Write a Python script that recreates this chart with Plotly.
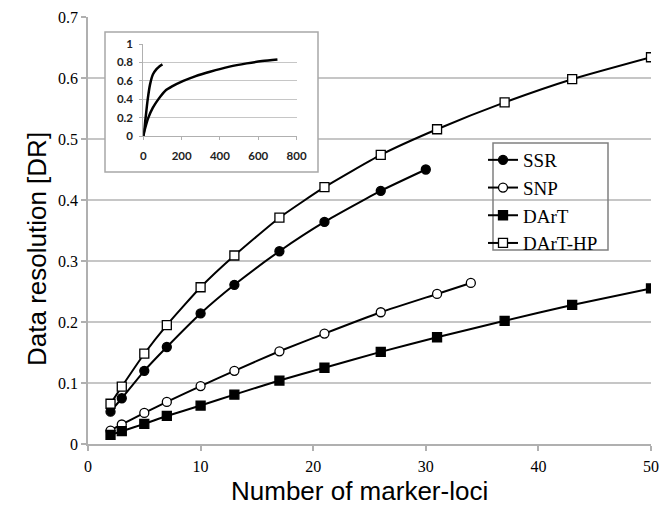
import plotly.graph_objects as go

# ---- data ----
x_ssr = [2, 3, 5, 7, 10, 13, 17, 21, 26, 30]
y_ssr = [0.053, 0.075, 0.120, 0.159, 0.214, 0.261, 0.316, 0.364, 0.415, 0.450]

x_snp = [2, 3, 5, 7, 10, 13, 17, 21, 26, 31, 34]
y_snp = [0.022, 0.032, 0.051, 0.069, 0.095, 0.120, 0.152, 0.181, 0.216, 0.246, 0.264]

x_dart = [2, 3, 5, 7, 10, 13, 17, 21, 26, 31, 37, 43, 50]
y_dart = [0.015, 0.021, 0.033, 0.046, 0.063, 0.081, 0.104, 0.125, 0.151, 0.175, 0.202, 0.228, 0.255]

x_darthp = [2, 3, 5, 7, 10, 13, 17, 21, 26, 31, 37, 43, 50]
y_darthp = [0.066, 0.094, 0.148, 0.195, 0.257, 0.309, 0.371, 0.421, 0.474, 0.516, 0.560, 0.598, 0.634]

inset_x1 = [0, 5, 12, 23, 35, 50, 70, 85, 100]
inset_y1 = [0, 0.08, 0.20, 0.40, 0.56, 0.67, 0.73, 0.76, 0.78]

inset_x2 = [0, 10, 26, 50, 78, 113, 150, 209, 270, 348, 450, 540, 620, 700]
inset_y2 = [0, 0.09, 0.20, 0.31, 0.40, 0.49, 0.54, 0.60, 0.65, 0.70, 0.755, 0.79, 0.815, 0.833]

names = ["SSR", "SNP", "DArT", "DArT-HP"]
x_title = "Number of marker-loci"
y_title = "Data resolution [DR]"

# ---- layout geometry ----
# The page body has an 8px default margin, so the figure is shrunk and every
# position below is given in page pixels and shifted by OFF.
OFF = 8
W, H = 670 - OFF, 506 - OFF
PLOT_L, PLOT_R, PLOT_T, PLOT_B = 88, 651, 17, 444          # page pixels
ML, MT = PLOT_L - OFF, PLOT_T - OFF
MR, MB = W - (PLOT_R - OFF), H - (PLOT_B - OFF)
PW, PH = PLOT_R - PLOT_L, PLOT_B - PLOT_T

XR = [0, 50]
YR = [0, 0.7]


def paper_x(px):
    return (px - PLOT_L) / PW


def paper_y(py):
    return (PLOT_B - py) / PH


def data_x(px):
    return XR[0] + paper_x(px) * (XR[1] - XR[0])


def data_y(py):
    return YR[0] + paper_y(py) * (YR[1] - YR[0])


SERIF = "Liberation Serif"
SANS = "Liberation Sans"
GRID = "#c6c6c6"
AXIS = "#b0b0b0"

fig = go.Figure()

styles = [
    dict(symbol="circle", color="black"),
    dict(symbol="circle", color="white"),
    dict(symbol="square", color="black"),
    dict(symbol="square", color="white"),
]
series = [(x_ssr, y_ssr), (x_snp, y_snp), (x_dart, y_dart), (x_darthp, y_darthp)]

for (xs, ys), nm, st in zip(series, names, styles):
    fig.add_trace(go.Scatter(
        x=xs, y=ys, name=nm, mode="lines+markers",
        line=dict(color="black", width=2, shape="spline", smoothing=0.5),
        marker=dict(symbol=st["symbol"], size=9, color=st["color"],
                    line=dict(color="black", width=1.3)),
        xaxis="x", yaxis="y",
    ))

for xs, ys in [(inset_x1, inset_y1), (inset_x2, inset_y2)]:
    fig.add_trace(go.Scatter(
        x=xs, y=ys, mode="lines", showlegend=False,
        line=dict(color="black", width=2.5, shape="spline", smoothing=0.8),
        xaxis="x2", yaxis="y2", hoverinfo="skip",
    ))

inset_font = dict(family="Lato", size=11.5, color="#222", weight="bold")

fig.update_layout(
    width=W, height=H,
    margin=dict(l=ML, r=MR, t=MT, b=MB, autoexpand=False),
    paper_bgcolor="white", plot_bgcolor="white",
    showlegend=True,
    xaxis=dict(
        domain=[0, 1], range=XR, dtick=10, showgrid=False, zeroline=False,
        automargin=False,
        showline=True, linecolor=AXIS, linewidth=1.5,
        ticks="outside", ticklen=5, tickcolor=AXIS, tickwidth=1.5,
        ticklabelstandoff=2,
        tickfont=dict(family=SERIF, size=16, color="black"),
    ),
    yaxis=dict(
        domain=[0, 1], range=YR, dtick=0.1, showgrid=True, gridcolor=GRID,
        gridwidth=1.5, zeroline=False, automargin=False,
        showline=True, linecolor=AXIS, linewidth=1.5,
        ticks="outside", ticklen=5, tickcolor=AXIS, tickwidth=1.5,
        tickfont=dict(family=SERIF, size=16, color="black"),
    ),
    xaxis2=dict(
        domain=[paper_x(143.3), paper_x(296.6)], anchor="y2",
        range=[0, 800], dtick=200, showgrid=False, zeroline=False,
        automargin=False,
        showline=True, linecolor=AXIS, linewidth=1,
        ticks="outside", ticklen=3, tickcolor=AXIS,
        ticklabelstandoff=6,
        tickfont=inset_font,
    ),
    yaxis2=dict(
        domain=[paper_y(136.3), paper_y(44)], anchor="x2",
        range=[0, 1], dtick=0.2, showgrid=True, gridcolor=GRID, gridwidth=1,
        zeroline=False, showline=True, linecolor=AXIS, linewidth=1,
        automargin=False,
        ticks="outside", ticklen=3, tickcolor=AXIS,
        ticklabelstandoff=4,
        tickfont=inset_font,
    ),
    legend=dict(
        x=paper_x(483), y=paper_y(141), xanchor="left", yanchor="top",
        bgcolor="rgba(0,0,0,0)", borderwidth=0,
        font=dict(family=SERIF, size=19, color="black"),
        itemwidth=30, tracegroupgap=0,
    ),
    annotations=[
        dict(text=x_title, xref="paper", yref="paper",
             x=paper_x(359), y=paper_y(490.5), xanchor="center", yanchor="middle",
             showarrow=False, borderpad=0,
             font=dict(family=SANS, size=26, color="black")),
        dict(text=y_title, xref="paper", yref="paper", textangle=-90,
             x=paper_x(37), y=paper_y(249), xanchor="center", yanchor="middle",
             showarrow=False, borderpad=0,
             font=dict(family=SANS, size=26, color="black")),
    ],
    shapes=[
        dict(
            type="rect", xref="x", yref="y", layer="between",
            x0=data_x(105), x1=data_x(318),
            y0=data_y(172), y1=data_y(32),
            line=dict(color="#a8a8a8", width=1.5), fillcolor="white",
        ),
        dict(
            type="rect", xref="paper", yref="paper", layer="above",
            x0=paper_x(493), x1=paper_x(608),
            y0=paper_y(250), y1=paper_y(143),
            line=dict(color="#808080", width=1.5), fillcolor="rgba(0,0,0,0)",
        ),
    ],
)

fig.write_html("out.html")
